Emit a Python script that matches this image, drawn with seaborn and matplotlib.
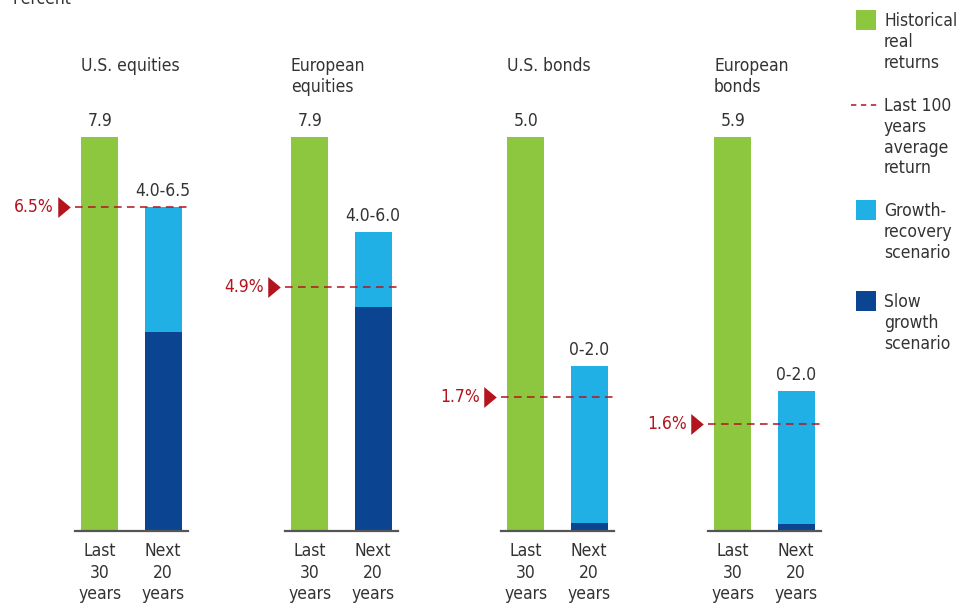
import matplotlib
matplotlib.use("Agg")
import matplotlib.pyplot as plt
import matplotlib.font_manager as fm
import seaborn as sns
import pandas as pd
from matplotlib.patches import Rectangle
from matplotlib.lines import Line2D

# data
panels = ["U.S. equities", "European\nequities", "U.S. bonds", "European\nbonds"]
periods = ["Last\n30\nyears", "Next\n20\nyears"]
historical = [7.9, 7.9, 5.0, 5.9]
growth_top = [6.5, 6.0, 2.1, 2.1]
slow_top = [4.0, 4.5, 0.1, 0.1]
range_labels = ["4.0-6.5", "4.0-6.0", "0-2.0", "0-2.0"]
avg_100y = [6.5, 4.9, 1.7, 1.6]

GREEN = "#8DC63F"
LIGHT = "#21B0E6"
DARK = "#0B4592"
RED = "#B3141E"
TEXT = "#333333"

sns.set_theme(style="white")

# the reference uses a condensed sans, pick the narrowest one available
names = {f.name for f in fm.fontManager.ttflist}
dv_cond = any(f.name == "DejaVu Sans" and "Condensed" in f.fname for f in fm.fontManager.ttflist)
if "Liberation Sans Narrow" in names:
    plt.rcParams["font.family"] = ["Liberation Sans Narrow", "DejaVu Sans"]
    FS = 13
elif dv_cond:
    plt.rcParams["font.family"] = ["DejaVu Sans"]
    plt.rcParams["font.stretch"] = "condensed"
    FS = 12.5
else:
    plt.rcParams["font.family"] = ["Liberation Sans", "DejaVu Sans"]
    FS = 12
plt.rcParams["text.color"] = TEXT

W, H = 960, 603
fig = plt.figure(figsize=(W / 100, H / 100), dpi=100)

def fx(x):
    return x / W

def fy(y):
    return 1 - y / H

ax_left = [75, 285, 501, 708]
ax_w = 113
tri = [(-0.6, 1), (0.6, 0), (-0.6, -1), (-0.6, 1)]

for i, name in enumerate(panels):
    ax = fig.add_axes([fx(ax_left[i]), fy(531), ax_w / W, (531 - 137) / H])
    df = pd.DataFrame({"period": periods,
                       "top": [historical[i], growth_top[i]],
                       "base": [historical[i], slow_top[i]]})
    sns.barplot(data=df, x="period", y="top", hue="period", palette=[GREEN, LIGHT],
                legend=False, width=0.58, saturation=1, linewidth=0, ax=ax)
    sns.barplot(data=df, x="period", y="base", hue="period", palette=[GREEN, DARK],
                legend=False, width=0.58, saturation=1, linewidth=0, ax=ax)
    ax.set_xlim(-0.39, 1.39)
    ax.set_ylim(0, historical[i])
    ax.set_xlabel("")
    ax.set_ylabel("")
    ax.set_yticks([])
    ax.tick_params(axis="x", length=0, pad=8, labelsize=FS, colors=TEXT)
    for lab in ax.get_xticklabels():
        lab.set_linespacing(1.25)
    for s in ["left", "right", "top"]:
        ax.spines[s].set_visible(False)
    ax.spines["bottom"].set_color("#555555")
    ax.spines["bottom"].set_linewidth(1.6)

    # last 100 years average
    ax.axhline(avg_100y[i], color=RED, lw=1.1, dashes=(5, 3.5), zorder=5)
    ax.plot([-0.565], [avg_100y[i]], marker=tri, markersize=15, color=RED,
            clip_on=False, markeredgewidth=0)
    ax.annotate(f"{avg_100y[i]}%", xy=(0, avg_100y[i]),
                xycoords=("axes fraction", "data"), xytext=(-21, 0),
                textcoords="offset pixels", ha="right", va="center",
                fontsize=FS, color=RED, annotation_clip=False)

    # value labels
    ax.annotate(f"{historical[i]:.1f}", xy=(0, historical[i]), xytext=(0, 7),
                textcoords="offset pixels", ha="center", va="bottom",
                fontsize=FS, annotation_clip=False)
    ax.annotate(range_labels[i], xy=(1, growth_top[i]), xytext=(0, 7),
                textcoords="offset pixels", ha="center", va="bottom",
                fontsize=FS, annotation_clip=False)

    # panel title
    ax.annotate(name, xy=(0, 1), xycoords="axes fraction", xytext=(6, 80),
                textcoords="offset pixels", ha="left", va="top", fontsize=FS,
                linespacing=1.2, annotation_clip=False)

fig.text(fx(12), fy(-1), "Percent", ha="left", va="center", fontsize=FS)

# legend on the right
legend_items = [
    ("patch", GREEN, 10, "Historical\nreal\nreturns"),
    ("line", RED, 105, "Last 100\nyears\naverage\nreturn"),
    ("patch", LIGHT, 200, "Growth-\nrecovery\nscenario"),
    ("patch", DARK, 291, "Slow\ngrowth\nscenario"),
]
for kind, color, y, label in legend_items:
    if kind == "patch":
        fig.patches.append(Rectangle((fx(856), fy(y + 20)), 20 / W, 20 / H,
                                     transform=fig.transFigure, color=color, lw=0))
        ty = y + 10
    else:
        fig.lines.append(Line2D([fx(851), fx(878)], [fy(y), fy(y)],
                                transform=fig.transFigure, color=color,
                                lw=1.1, dashes=(3.5, 3)))
        ty = y
    fig.text(fx(884), fy(ty - 8), label, ha="left", va="top", fontsize=FS,
             linespacing=1.2)

plt.savefig("out.png", dpi=100)
